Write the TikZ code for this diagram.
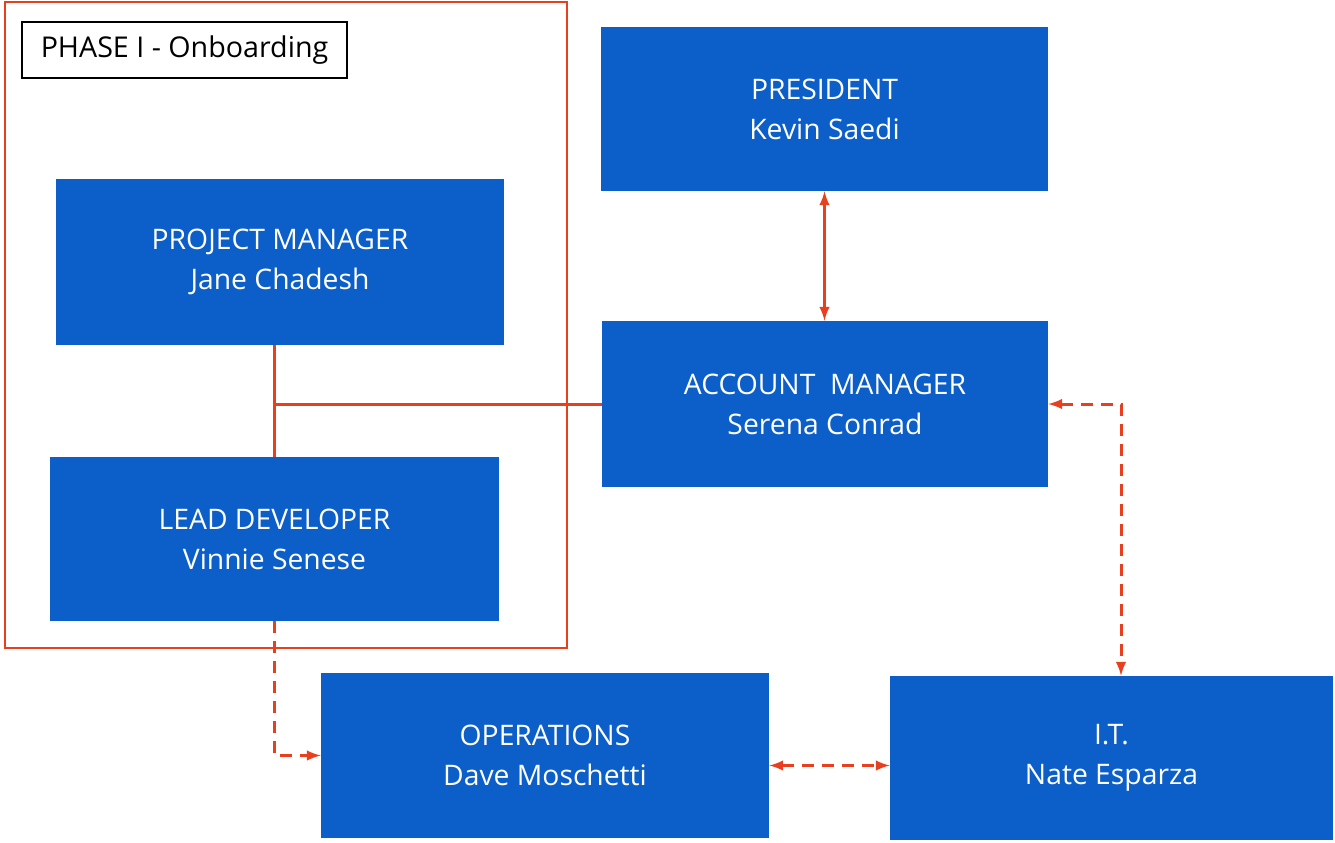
\documentclass[tikz,border=0pt]{standalone}
\usepackage{fontspec}
\setmainfont{Open Sans}
\definecolor{boxblue}{RGB}{12,94,201}
\definecolor{linkred}{RGB}{232,64,30}
\tikzset{
  rolebox/.style={draw=none, fill=boxblue, text=white, align=center,
    font=\fontsize{16.1}{22.7}\selectfont, inner sep=0pt},
  link/.style={draw=linkred, line width=1.7pt},
  dlink/.style={link, dash pattern=on 0.24cm off 0.16cm}
}
\begin{document}
\begin{tikzpicture}[x=0.02cm, y=-0.02cm]
          \useasboundingbox (0,0) rectangle (1335,842);

          % phase frame
          \draw[draw=linkred, line width=1.4pt] (5,2) rectangle (567,648);
          \node[draw=black, line width=1.5pt, minimum width=6.5cm, minimum height=1.12cm,
            font=\fontsize{16.3}{20}\selectfont] (phase) at (184.5,50) {PHASE I - Onboarding};

          % roles
          \node[rolebox, minimum width=8.94cm, minimum height=3.28cm] (president) at (824.5,109)
            {PRESIDENT\\Kevin Saedi};
          \node[rolebox, minimum width=8.96cm, minimum height=3.32cm] (pm) at (280,262)
            {PROJECT MANAGER\\Jane Chadesh};
          \node[rolebox, minimum width=8.92cm, minimum height=3.32cm] (acct) at (825,404)
            {ACCOUNT\ \ MANAGER\\Serena Conrad};
          \node[rolebox, minimum width=8.98cm, minimum height=3.28cm] (lead) at (274.5,539)
            {LEAD DEVELOPER\\Vinnie Senese};
          \node[rolebox, minimum width=8.96cm, minimum height=3.30cm] (ops) at (545,755.5)
            {OPERATIONS\\Dave Moschetti};
          \node[rolebox, minimum width=8.86cm, minimum height=3.28cm] (it) at (1111.5,758)
            {I.T.\\Nate Esparza};

          % links
          \draw[link, latex-latex] (president.south) -- (president.south |- acct.north);

          \draw[link] (lead.north) -- (lead.north |- pm.south);
          \coordinate (join) at (lead.north |- acct.west);
          \draw[link] (join) -- (acct.west);

          \coordinate (itin) at ([xshift=0.19cm]it.north);
          \draw[dlink, latex-latex] (acct.east) -| (itin);

          \draw[dlink, -latex] (lead.south) |- (ops.west);

          \coordinate (opsout) at ([yshift=-0.2cm]ops.east);
          \draw[dlink, latex-latex] (opsout) -- (opsout -| it.west);

      \end{tikzpicture}
\end{document}
